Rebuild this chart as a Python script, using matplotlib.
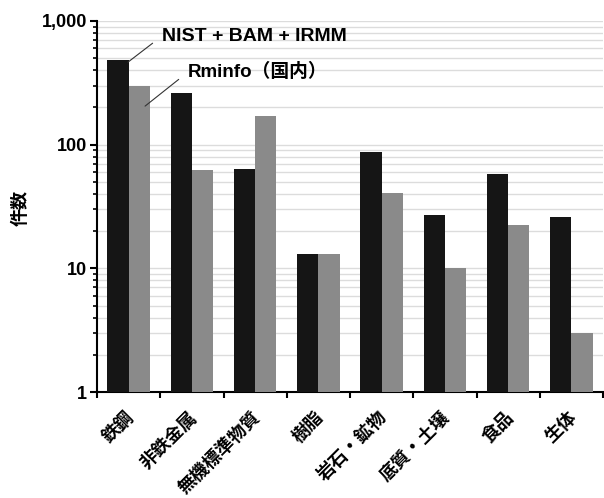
import numpy as np
import matplotlib
matplotlib.use('Agg')
import matplotlib.pyplot as plt
from matplotlib.ticker import LogLocator, FixedLocator, NullFormatter, FuncFormatter

plt.rcParams['font.family'] = ['Liberation Sans', 'Noto Sans CJK JP']
plt.rcParams['font.weight'] = 'bold'

categories = ['鉄鋼', '非鉄金属', '無機標準物質', '樹脂', '岩石・鉱物', '底質・土壌', '食品', '生体']
nist_bam_irmm = [480, 262, 63, 13, 87, 27, 58, 26]
rminfo = [298, 62, 170, 13, 41, 10, 22.5, 3]
series_names = ['NIST + BAM + IRMM', 'Rminfo（国内）']

fig = plt.figure(figsize=(6.04, 4.98), dpi=100)
ax = fig.add_axes([97 / 604, 1 - 392 / 498, 506 / 604, 371 / 498])

x = np.arange(len(categories))
w = 0.335
ax.bar(x - w / 2, nist_bam_irmm, width=w, color='#151515', zorder=3)
ax.bar(x + w / 2, rminfo, width=w, color='#8a8a8a', zorder=3)

ax.set_yscale('log')
ax.set_ylim(1, 1000)
ax.set_xlim(-0.5, len(categories) - 0.5)
ax.yaxis.set_major_locator(FixedLocator([1, 10, 100, 1000]))
ax.yaxis.set_major_formatter(FuncFormatter(lambda v, p: f'{int(round(v)):,}'))
ax.yaxis.set_minor_locator(LogLocator(base=10, subs=np.arange(2, 10)))
ax.yaxis.set_minor_formatter(NullFormatter())
ax.grid(True, axis='y', which='both', color='#dcdcdc', linewidth=1.0, zorder=0)

ax.set_xticks(np.arange(len(categories) + 1) - 0.5)
ax.set_xticklabels([])
ax.tick_params(axis='x', which='major', direction='out', length=4, width=1.5)
ax.tick_params(axis='y', which='major', direction='out', length=5, width=1.5, labelsize=13, pad=2)
ax.tick_params(axis='y', which='minor', direction='out', length=3, width=1.2)

for i, c in enumerate(categories):
    ax.text(i - 0.05, -0.045, c, transform=ax.get_xaxis_transform(), rotation=45,
            ha='right', va='top', rotation_mode='anchor', fontsize=13, fontweight='bold')

for s in ['top', 'right']:
    ax.spines[s].set_visible(False)
for s in ['left', 'bottom']:
    ax.spines[s].set_linewidth(1.5)

ax.text(-0.150, 0.496, '件数', transform=ax.transAxes, rotation=90,
        ha='center', va='center', fontsize=13, fontweight='bold')

# leader lines: from inside the bars up to the labels (figure pixels, origin bottom-left)
ax.annotate(series_names[0], xy=(-0.01, 465), xycoords='data',
            xytext=(162, 462), textcoords='figure pixels',
            fontsize=14, fontweight='bold', va='center', ha='left',
            arrowprops=dict(arrowstyle='-', color='#333333', lw=0.8,
                            shrinkA=6, shrinkB=0, relpos=(0, 0.5)))
ax.annotate(series_names[1], xy=(0.26, 205), xycoords='data',
            xytext=(188, 426), textcoords='figure pixels',
            fontsize=13.5, fontweight='bold', va='center', ha='left',
            arrowprops=dict(arrowstyle='-', color='#333333', lw=0.8,
                            shrinkA=6, shrinkB=0, relpos=(0, 0.5)))

fig.savefig('out.png', dpi=100)
